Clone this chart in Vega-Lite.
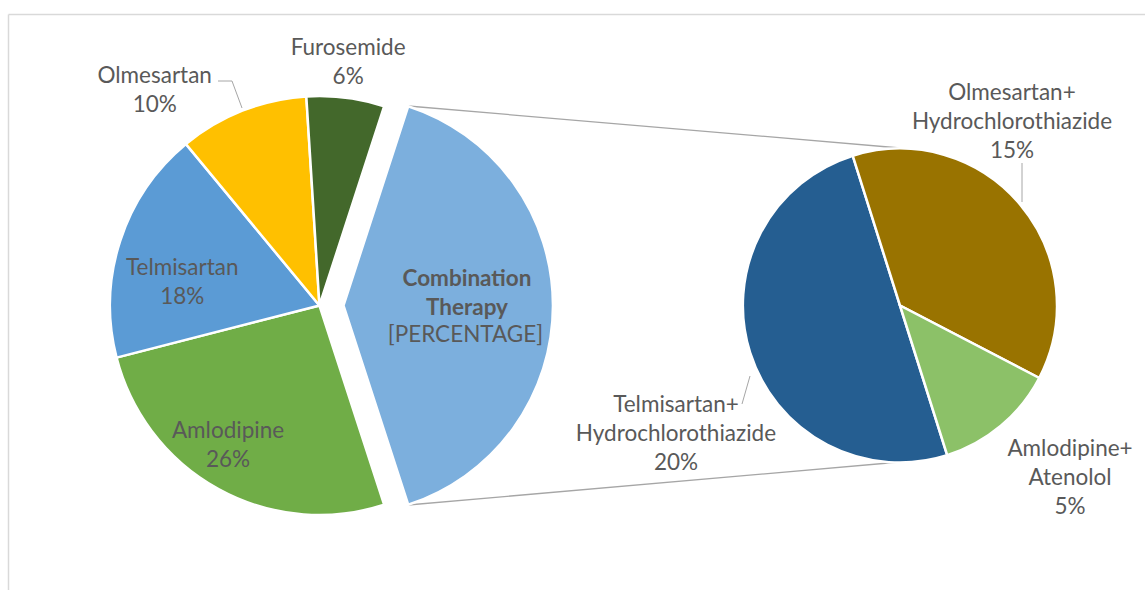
{
  "$schema": "https://vega.github.io/schema/vega-lite/v6.json",
  "width": 1137,
  "height": 576,
  "autosize": "none",
  "padding": {"left": 8, "top": 14, "right": 0, "bottom": 0},
  "background": "white",
  "config": {
    "view": {"stroke": null},
    "axis": {"minExtent": 0, "maxExtent": 0, "offset": 0, "labelPadding": 0, "titlePadding": 0},
    "text": {"font": "Lato", "fontSize": 22.5, "color": "#595959", "lineHeight": 29, "baseline": "middle", "align": "center"}
  },
  "datasets": {
    "drugs": [
      {"pie": "Main", "drug": "Combination Therapy", "share": 40},
      {"pie": "Main", "drug": "Amlodipine", "share": 26},
      {"pie": "Main", "drug": "Telmisartan", "share": 18},
      {"pie": "Main", "drug": "Olmesartan", "share": 10},
      {"pie": "Main", "drug": "Furosemide", "share": 6},
      {"pie": "Secondary", "drug": "Telmisartan+Hydrochlorothiazide", "share": 20},
      {"pie": "Secondary", "drug": "Olmesartan+Hydrochlorothiazide", "share": 15},
      {"pie": "Secondary", "drug": "Amlodipine+Atenolol", "share": 5}
    ],
    "guides": [
      {"kind": "series", "x": 400, "y": 92, "x2": 892, "y2": 134},
      {"kind": "series", "x": 400, "y": 491, "x2": 892, "y2": 448},
      {"kind": "leader", "x": 210, "y": 67, "x2": 224, "y2": 67},
      {"kind": "leader", "x": 224, "y": 67, "x2": 234, "y2": 94},
      {"kind": "leader", "x": 1014, "y": 149, "x2": 1014, "y2": 188},
      {"kind": "leader", "x": 734, "y": 390, "x2": 742, "y2": 362}
    ]
  },
  "layer": [
    {
      "data": {"name": "guides"},
      "encoding": {
        "x": {"field": "x", "type": "quantitative", "scale": {"domain": [0, 1137], "nice": false, "zero": false},
              "axis": {"orient": "top", "domain": true, "domainColor": "#d9d9d9", "domainWidth": 1.5, "ticks": false, "labels": false, "grid": false, "title": null}},
        "y": {"field": "y", "type": "quantitative", "scale": {"domain": [0, 576], "reverse": true, "nice": false, "zero": false},
              "axis": {"orient": "left", "domain": true, "domainColor": "#d9d9d9", "domainWidth": 1.5, "ticks": false, "labels": false, "grid": false, "title": null}},
        "x2": {"field": "x2"},
        "y2": {"field": "y2"}
      },
      "layer": [
        {"transform": [{"filter": "datum.kind === 'series'"}], "mark": {"type": "rule", "color": "#a6a6a6", "strokeWidth": 1.3}},
        {"transform": [{"filter": "datum.kind === 'leader'"}], "mark": {"type": "rule", "color": "#a6a6a6", "strokeWidth": 1}}
      ]
    },
    {
      "data": {"name": "drugs"},
      "transform": [
        {"calculate": "replace(datum.drug, '+', '+\\n') + '\\n' + datum.share + '%'", "as": "label"}
      ],
      "encoding": {
        "x": {"field": "pie", "type": "nominal", "scale": {"type": "point", "domain": ["Main", "Secondary"], "padding": 0.4793, "align": 0.5597}, "axis": null},
        "order": {"field": "share", "type": "quantitative", "sort": "descending"}
      },
      "layer": [
        {
          "transform": [{"filter": "datum.pie === 'Main'"}],
          "encoding": {
            "theta": {"field": "share", "type": "quantitative", "stack": true, "scale": {"range": [0.31416, 6.59734]}}
          },
          "layer": [
            {
              "mark": {"type": "arc", "radius": 209.5, "stroke": "white", "strokeWidth": 2.5, "yOffset": 3.5},
              "encoding": {
                "color": {"field": "drug", "type": "nominal", "legend": null,
                  "scale": {"domain": ["Combination Therapy", "Amlodipine", "Telmisartan", "Olmesartan", "Furosemide", "Telmisartan+Hydrochlorothiazide", "Olmesartan+Hydrochlorothiazide", "Amlodipine+Atenolol"],
                            "range": ["#7CAFDD", "#70AD47", "#5B9BD5", "#FFC000", "#43682B", "#255E91", "#997300", "#8CC168"]}},
                "opacity": {"condition": {"test": "datum.drug === 'Combination Therapy'", "value": 0}, "value": 1}
              }
            },
            {
              "mark": {"type": "arc", "radius": 209.5, "stroke": "white", "strokeWidth": 2.5, "xOffset": 24, "yOffset": 3.5},
              "encoding": {
                "color": {"field": "drug", "type": "nominal", "legend": null},
                "opacity": {"condition": {"test": "datum.drug === 'Combination Therapy'", "value": 1}, "value": 0}
              }
            },
            {
              "mark": {"type": "text", "radius": 244.7, "dx": -2, "dy": -14.5, "yOffset": 3.5, "lineBreak": "\n"},
              "encoding": {"text": {"condition": {"test": "datum.drug === 'Furosemide'", "field": "label"}, "value": ""}}
            },
            {
              "mark": {"type": "text", "radius": 271, "dx": -65, "dy": 22.5, "yOffset": 3.5, "lineBreak": "\n"},
              "encoding": {"text": {"condition": {"test": "datum.drug === 'Olmesartan'", "field": "label"}, "value": ""}}
            },
            {
              "mark": {"type": "text", "radius": 139, "dx": -5, "dy": 5.5, "yOffset": 3.5, "lineBreak": "\n"},
              "encoding": {"text": {"condition": {"test": "datum.drug === 'Telmisartan'", "field": "label"}, "value": ""}}
            },
            {
              "mark": {"type": "text", "radius": 167, "dx": -11, "dy": -21, "yOffset": 3.5, "lineBreak": "\n"},
              "encoding": {"text": {"condition": {"test": "datum.drug === 'Amlodipine'", "field": "label"}, "value": ""}}
            },
            {
              "mark": {"type": "text", "radius": 123.5, "xOffset": 24, "dx": 0, "dy": -26.5, "yOffset": 3.5, "lineBreak": " ", "fontWeight": "bold"},
              "encoding": {"text": {"condition": {"test": "datum.drug === 'Combination Therapy'", "field": "drug"}, "value": ""}}
            },
            {
              "mark": {"type": "text", "radius": 123.5, "xOffset": 24, "dx": -1.5, "dy": 29.5, "yOffset": 3.5},
              "encoding": {"text": {"condition": {"test": "datum.drug === 'Combination Therapy'", "value": "[PERCENTAGE]"}, "value": ""}}
            }
          ]
        },
        {
          "transform": [{"filter": "datum.pie === 'Secondary'"}],
          "encoding": {
            "theta": {"field": "share", "type": "quantitative", "stack": true, "scale": {"range": [2.8362, 9.1194]}}
          },
          "layer": [
            {
              "mark": {"type": "arc", "radius": 157, "stroke": "white", "strokeWidth": 2.5, "yOffset": 3.5},
              "encoding": {"color": {"field": "drug", "type": "nominal", "legend": null}}
            },
            {
              "mark": {"type": "text", "radius": 215, "dx": -52.7, "dy": -74.8, "yOffset": 3.5, "lineBreak": "\n"},
              "encoding": {"text": {"condition": {"test": "datum.drug === 'Olmesartan+Hydrochlorothiazide'", "field": "label"}, "value": ""}}
            },
            {
              "mark": {"type": "text", "radius": 242.9, "dx": 13.9, "dy": -42.1, "yOffset": 3.5, "lineBreak": "\n"},
              "encoding": {"text": {"condition": {"test": "datum.drug === 'Amlodipine+Atenolol'", "field": "label"}, "value": ""}}
            },
            {
              "mark": {"type": "text", "radius": 258.5, "dx": 22.5, "dy": 21.8, "yOffset": 3.5, "lineBreak": "\n"},
              "encoding": {"text": {"condition": {"test": "datum.drug === 'Telmisartan+Hydrochlorothiazide'", "field": "label"}, "value": ""}}
            }
          ],
          "resolve": {"scale": {"theta": "shared"}}
        }
      ],
      "resolve": {"scale": {"theta": "independent"}}
    }
  ],
  "resolve": {"scale": {"x": "independent", "y": "independent"}}
}
